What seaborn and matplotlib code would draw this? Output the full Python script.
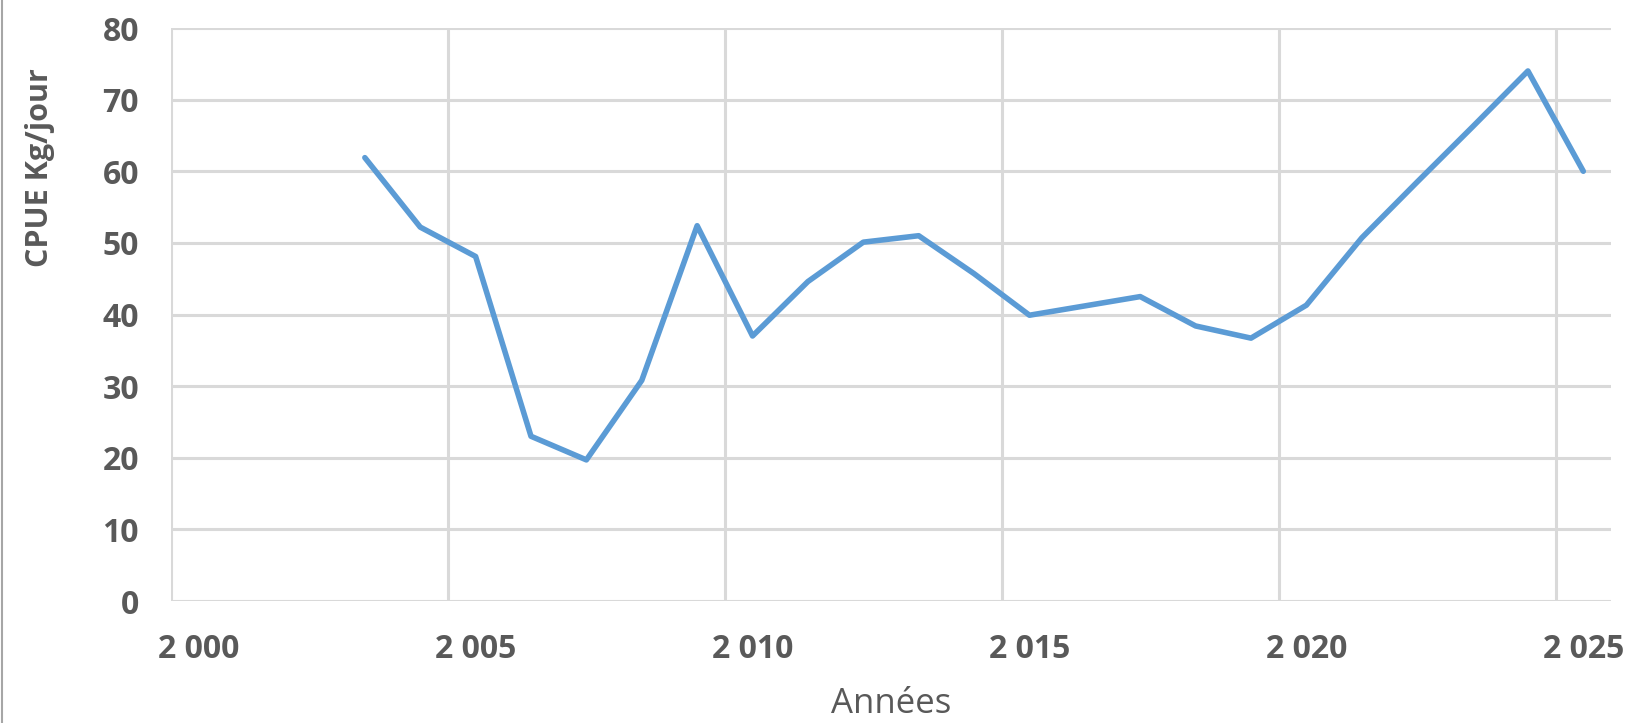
import numpy as np
import pandas as pd
import matplotlib
matplotlib.use("Agg")
import matplotlib.pyplot as plt
from matplotlib.lines import Line2D
import seaborn as sns

# data (one value per year, drawn at mid-year)
years = [2003, 2004, 2005, 2006, 2007, 2008, 2009, 2010, 2011, 2012, 2013, 2014,
         2015, 2016, 2017, 2018, 2019, 2020, 2021, 2022, 2023, 2024, 2025]
cpue = [61.9, 52.2, 48.1, 23.0, 19.7, 30.8, 52.4, 37.0, 44.6, 50.1, 51.0, 45.7,
        39.9, 41.2, 42.5, 38.4, 36.7, 41.3, 50.7, 58.5, 66.2, 74.0, 60.0]

x_ticks = [2000, 2005, 2010, 2015, 2020, 2025]
x_labels = ["2 000", "2 005", "2 010", "2 015", "2 020", "2 025"]
y_ticks = [0, 10, 20, 30, 40, 50, 60, 70, 80]

df = pd.DataFrame({"annee": np.array(years) + 0.5, "cpue": cpue})

sns.set_style("white")
plt.rcParams["font.family"] = ["Open Sans", "DejaVu Sans"]

grey = "#595959"
grid_col = "#D9D9D9"

W, H = 1648, 723
fig = plt.figure(figsize=(W / 100, H / 100), dpi=100)
ax = fig.add_axes([171 / W, 1 - 601 / H, (1611 - 171) / W, (601 - 28) / H])

sns.lineplot(data=df, x="annee", y="cpue", color="#5B9BD5", linewidth=4,
             solid_joinstyle="round", solid_capstyle="round", ax=ax)

ax.set_xlim(2000, 2026)
ax.set_ylim(0, 80)

# gridlines on the years, labels shifted half a year to the right (like the excel chart)
ax.set_xticks(x_ticks)
ax.set_xticklabels([""] * len(x_ticks))
ax.set_xticks([t + 0.5 for t in x_ticks], labels=x_labels, minor=True)
ax.set_yticks(y_ticks)
ax.set_yticklabels([str(v) for v in y_ticks])

ax.tick_params(axis="x", which="both", length=0)
ax.tick_params(axis="x", which="minor", pad=23, labelsize=23, labelcolor=grey)
ax.tick_params(axis="y", length=0, pad=23, labelsize=23, labelcolor=grey)
for lab in ax.get_xticklabels(minor=True) + ax.get_yticklabels():
    lab.set_fontweight("bold")

ax.grid(True, which="major", color=grid_col, linewidth=2.2)
ax.set_axisbelow(True)
sns.despine(ax=ax, left=True, bottom=True)

ax.set_ylabel("CPUE Kg/jour", fontsize=22, fontweight="bold", color=grey, va="center")
ax.yaxis.set_label_coords(-0.091, 0.756)
ax.set_xlabel("Années", fontsize=25, color=grey, va="baseline")
ax.xaxis.set_label_coords(0.5, -0.1955)

# chart frame edge on the left
fig.add_artist(Line2D([2 / W, 2 / W], [0, 1], transform=fig.transFigure,
                      color="#A6A6A6", linewidth=1.5))

fig.savefig("out.png", dpi=100)
